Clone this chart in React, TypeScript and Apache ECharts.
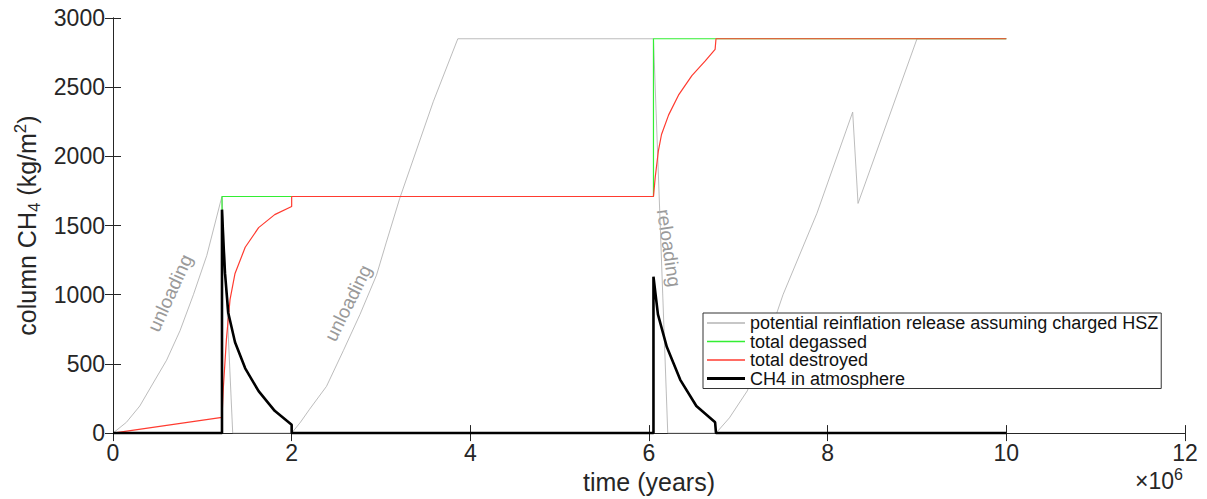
import React, { useEffect, useRef } from "react";
import * as echarts from "echarts";

// x values in years, y values in kg/m^2
const reinflation: number[][] = [
  [0, 0], [0.15e6, 78], [0.3e6, 196], [0.45e6, 362], [0.6e6, 527], [0.75e6, 740],
  [0.9e6, 1000], [1.05e6, 1284], [1.2e6, 1662], [1.22e6, 1710], [1.34e6, 0],
  [2.0e6, 0], [2.1e6, 80], [2.2e6, 172], [2.39e6, 338], [2.58e6, 598], [2.765e6, 858],
  [2.95e6, 1142], [3.06e6, 1380], [3.21e6, 1697], [3.585e6, 2395], [3.86e6, 2850],
  [6.05e6, 2850], [6.21e6, 0], [6.75e6, 0], [6.9e6, 110], [7.1e6, 305], [7.3e6, 620],
  [7.5e6, 1000], [7.88e6, 1589], [8.28e6, 2320], [8.34e6, 1660], [9.0e6, 2850], [10e6, 2850],
];
const degassed: number[][] = [
  [0, 0], [1.22e6, 0], [1.22e6, 1710], [6.05e6, 1710], [6.05e6, 2850], [10e6, 2850],
];
const destroyed: number[][] = [
  [0, 0], [1.22e6, 113], [1.235e6, 326], [1.27e6, 681], [1.31e6, 965], [1.366e6, 1154],
  [1.48e6, 1343], [1.63e6, 1485], [1.81e6, 1579], [2.0e6, 1638], [2.0e6, 1710],
  [6.05e6, 1710], [6.07e6, 1851], [6.105e6, 2040], [6.14e6, 2158], [6.22e6, 2300],
  [6.33e6, 2442], [6.48e6, 2584], [6.63e6, 2690], [6.74e6, 2773], [6.75e6, 2850], [10e6, 2850],
];
const atmosphere: number[][] = [
  [0, 0], [1.22e6, 0], [1.22e6, 1615], [1.236e6, 1380], [1.254e6, 1154], [1.29e6, 870],
  [1.366e6, 657], [1.48e6, 468], [1.63e6, 303], [1.81e6, 161], [2.0e6, 61], [2.0e6, 0],
  [6.05e6, 0], [6.05e6, 1130], [6.1e6, 858], [6.2e6, 622], [6.35e6, 385], [6.53e6, 196],
  [6.74e6, 78], [6.75e6, 0], [10e6, 0],
];
const seriesNames = [
  "potential reinflation release assuming charged HSZ",
  "total degassed",
  "total destroyed",
  "CH4 in atmosphere",
];
const seriesColors = ["#b4b4b4", "#33ee33", "#ff3b30", "#000000"];
const seriesWidths = [0.9, 1.2, 1.2, 2.6];
const annotations = [
  { text: "unloading", x: 170, y: 293, angle: 65.5 },
  { text: "unloading", x: 348, y: 303, angle: 63.5 },
  { text: "reloading", x: 669, y: 248, angle: -81.5 },
];

const FONT = "Liberation Sans, Arial, Helvetica, sans-serif";
const AX = "#262626";

export default function App() {
  const ref = useRef<HTMLDivElement>(null);
  useEffect(() => {
    if (!ref.current) return;
    const chart = echarts.init(ref.current, undefined, { renderer: "svg" });
    const xCommon = {
      type: "value" as const,
      min: 0,
      max: 12e6,
      interval: 2e6,
      splitLine: { show: false },
      axisLine: { show: true, lineStyle: { color: AX, width: 1 } },
      axisTick: { show: true, inside: true, length: 8, lineStyle: { color: AX } },
    };
    const yCommon = {
      type: "value" as const,
      min: 0,
      max: 3000,
      interval: 500,
      splitLine: { show: false },
      axisLine: { show: true, lineStyle: { color: AX, width: 1 } },
      axisTick: { show: true, inside: true, length: 8, lineStyle: { color: AX } },
    };
    const seriesData = [reinflation, degassed, destroyed, atmosphere];
    chart.setOption({
      animation: false,
      textStyle: { fontFamily: FONT },
      grid: { left: 113, right: 22, top: 18, bottom: 58 },
      xAxis: [
        {
          ...xCommon,
          position: "bottom",
          axisLabel: {
            fontSize: 23,
            color: AX,
            margin: 8,
            fontFamily: FONT,
            formatter: (v: number) => String(v / 1e6),
          },
          name: "time (years)",
          nameLocation: "middle",
          nameGap: 30,
          nameTextStyle: { fontSize: 25, color: AX, fontFamily: FONT },
        },
        { ...xCommon, position: "top", axisLabel: { show: false } },
      ],
      yAxis: [
        {
          ...yCommon,
          position: "left",
          axisLabel: {
            fontSize: 23,
            color: AX,
            margin: 8,
            fontFamily: FONT,
            formatter: (v: number) => String(v),
          },
          name: "{a|column CH}{sub|4}{a| (kg/m}{sup|2}{a|)}",
          nameLocation: "middle",
          nameGap: 64,
          nameTextStyle: {
            color: AX,
            fontFamily: FONT,
            rich: {
              a: { fontSize: 25, color: AX, fontFamily: FONT },
              sub: { fontSize: 17, color: AX, fontFamily: FONT, padding: [14, 0, 0, 0] },
              sup: { fontSize: 17, color: AX, fontFamily: FONT, padding: [0, 0, 14, 0] },
            },
          },
        },
        { ...yCommon, position: "right", axisLabel: { show: false } },
      ],
      legend: {
        show: true,
        orient: "vertical",
        left: 703,
        top: 313,
        data: seriesNames.map((n, i) => ({
          name: n,
          icon: `path://M0,0 H38 V${seriesWidths[i] + 0.4} H0 Z`,
          itemStyle: { color: seriesColors[i] },
        })),
        itemWidth: 38,
        itemHeight: 12,
        itemGap: 0.5,
        padding: [1, 3, 1, 4],
        borderColor: "#333",
        borderWidth: 1,
        backgroundColor: "#fff",
        textStyle: { fontSize: 18, lineHeight: 18, color: "#111", fontFamily: FONT },
        selectedMode: false,
      },
      graphic: [
        ...annotations.map((a) => ({
          type: "text",
          x: a.x,
          y: a.y,
          rotation: (a.angle * Math.PI) / 180,
          silent: true,
          style: {
            text: a.text,
            fontSize: 19,
            fontFamily: FONT,
            fill: "#9a9a9a",
            align: "center",
            verticalAlign: "middle",
          },
        })),
        {
          type: "text",
          right: 24,
          top: 466,
          silent: true,
          style: {
            text: "{a|×10}{sup|6}",
            fontFamily: FONT,
            rich: {
              a: { fontSize: 23, fill: AX, fontFamily: FONT },
              sup: { fontSize: 16, fill: AX, fontFamily: FONT, padding: [0, 0, 14, 0] },
            },
          },
        },
      ],
      series: seriesNames.map((n, i) => ({
        name: n,
        type: "line",
        data: seriesData[i],
        symbol: "none",
        silent: true,
        lineStyle: { color: seriesColors[i], width: seriesWidths[i] },
        itemStyle: { color: seriesColors[i] },
      })),
    });
    return () => chart.dispose();
  }, []);
  return (
    <div
      ref={ref}
      style={{ position: "fixed", left: 0, top: 0, width: 1207, height: 499, background: "#fff" }}
    />
  );
}
